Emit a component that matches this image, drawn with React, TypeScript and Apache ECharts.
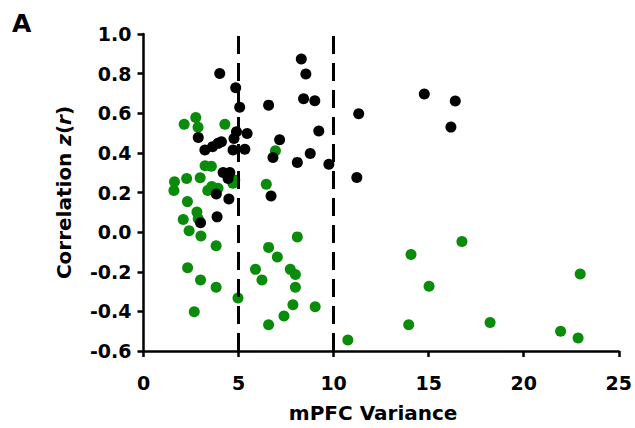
import React, { useEffect, useRef } from "react";
import * as echarts from "echarts";

// Black group (mPFC variance, correlation z(r))
const blackVariance = [
  4.01, 4.85, 8.3, 8.54, 8.42, 9.01, 6.58, 5.06, 11.32, 9.22, 7.16, 5.45, 4.89, 4.76,
  5.33, 4.71, 6.81, 8.77, 8.09, 9.75, 11.22, 6.71, 14.77, 16.4, 16.17, 2.88, 3.23, 3.63,
  3.92, 4.1, 4.19, 4.54, 4.45, 3.83, 4.49, 3.87, 3.0,
];
const blackCorr = [
  0.801, 0.729, 0.874, 0.798, 0.673, 0.663, 0.641, 0.63, 0.597, 0.51, 0.466, 0.498, 0.507, 0.473,
  0.418, 0.414, 0.377, 0.397, 0.352, 0.343, 0.276, 0.182, 0.697, 0.662, 0.53, 0.478, 0.414, 0.431,
  0.448, 0.456, 0.301, 0.301, 0.271, 0.192, 0.167, 0.077, 0.047,
];

// Green group
const greenVariance = [
  2.14, 2.75, 2.87, 4.28, 3.24, 3.57, 1.63, 1.6, 2.27, 2.98, 3.38, 3.59, 3.92, 4.7, 4.8,
  2.31, 2.81, 2.09, 2.88, 2.4, 3.02, 3.82, 2.32, 3.0, 3.82, 4.97, 2.67, 6.94, 6.46, 8.09,
  6.58, 7.04, 5.89, 7.72, 7.99, 6.23, 7.99, 7.86, 9.03, 7.39, 6.58, 10.75, 16.75, 14.07,
  22.97, 15.02, 18.23, 13.95, 21.94, 22.86,
];
const greenCorr = [
  0.544, 0.579, 0.529, 0.544, 0.335, 0.333, 0.254, 0.21, 0.271, 0.275, 0.21, 0.23, 0.221, 0.247, 0.263,
  0.154, 0.101, 0.064, 0.068, 0.007, -0.02, -0.069, -0.18, -0.242, -0.278, -0.333, -0.402, 0.411, 0.242, -0.024,
  -0.077, -0.125, -0.188, -0.188, -0.214, -0.242, -0.278, -0.367, -0.377, -0.423, -0.468, -0.544, -0.047, -0.113,
  -0.211, -0.273, -0.456, -0.468, -0.5, -0.534,
];

const thresholds = [5, 10];
const xMin = 0, xMax = 25, xStep = 5;
const yMin = -0.6, yMax = 1.0, yStep = 0.2;

const FONT = "'DejaVu Sans', Verdana, sans-serif";

export default function App() {
  const ref = useRef<HTMLDivElement>(null);
  useEffect(() => {
    if (!ref.current) return;
    const chart = echarts.init(ref.current, null, { renderer: "svg" });
    const black = blackVariance.map((v, i) => [v, blackCorr[i]]);
    const green = greenVariance.map((v, i) => [v, greenCorr[i]]);
    const axisLine = { lineStyle: { color: "#000", width: 2.5 } };
    chart.setOption({
      animation: false,
      backgroundColor: "#fff",
      grid: { left: 143.5, right: 15, top: 34, bottom: 77 },
      graphic: [
        {
          type: "text",
          left: 12,
          top: 11,
          style: { text: "A", font: `bold 25px ${FONT}`, fill: "#000" },
        },
      ],
      xAxis: {
        type: "value",
        min: xMin,
        max: xMax,
        interval: xStep,
        splitLine: { show: false },
        axisLine: { ...axisLine, onZero: false },
        axisTick: { show: true, length: 6, inside: false, lineStyle: { color: "#000", width: 2.5 } },
        axisLabel: { margin: 22, color: "#000", fontFamily: FONT, fontWeight: "bold", fontSize: 19 },
        name: "mPFC Variance",
        nameLocation: "middle",
        nameGap: 52,
        nameTextStyle: { color: "#000", fontFamily: FONT, fontWeight: "bold", fontSize: 20, padding: [0, 16, 0, 0] },
      },
      yAxis: {
        type: "value",
        min: yMin,
        max: yMax,
        interval: yStep,
        splitLine: { show: false },
        axisLine: { ...axisLine, onZero: false },
        axisTick: { show: true, length: 6, inside: false, lineStyle: { color: "#000", width: 2.5 } },
        axisLabel: {
          margin: 12,
          color: "#000",
          fontFamily: FONT,
          fontWeight: "bold",
          fontSize: 19,
          formatter: (v: number) => v.toFixed(1),
        },
        name: "{n|Correlation }{i|z}{n|(}{i|r}{n|)}",
        nameLocation: "middle",
        nameGap: 70,
        nameRotate: 90,
        nameTextStyle: {
          rich: {
            n: { color: "#000", fontFamily: FONT, fontWeight: "bold", fontSize: 20 },
            i: { color: "#000", fontFamily: FONT, fontWeight: "bold", fontStyle: "italic", fontSize: 20 },
          },
        },
      },
      series: [
        {
          type: "scatter",
          data: green,
          symbolSize: 11,
          itemStyle: { color: "#0a8c0a", opacity: 1 },
          markLine: {
            silent: true,
            symbol: "none",
            label: { show: false },
            lineStyle: { color: "#000", width: 3, type: [18, 9] },
            data: thresholds.map((t) => ({ xAxis: t })),
          },
        },
        {
          type: "scatter",
          data: black,
          symbolSize: 11,
          itemStyle: { color: "#000", opacity: 1 },
        },
      ],
    });
    return () => chart.dispose();
  }, []);
  return (
    <div
      ref={ref}
      style={{ position: "fixed", left: 0, top: 0, width: 635, height: 428, background: "#fff" }}
    />
  );
}
